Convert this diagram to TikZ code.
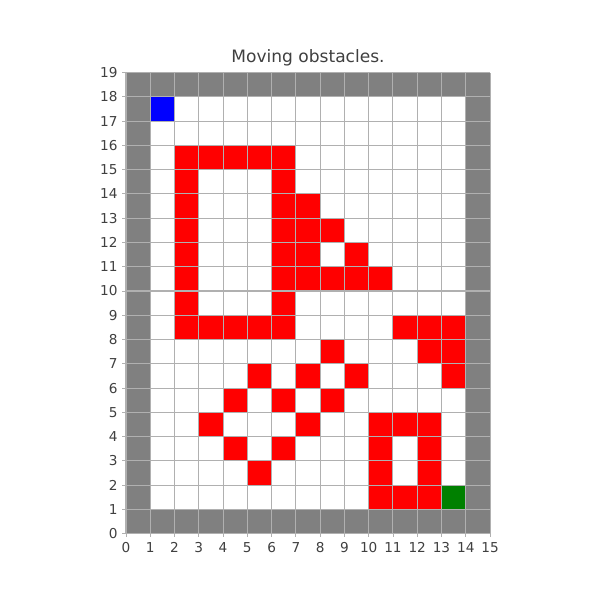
\documentclass[tikz,border=0pt]{standalone}
\usepackage{fontspec}
\setmainfont{DejaVu Sans}
\definecolor{wallgray}{HTML}{808080}
\definecolor{gridgray}{HTML}{B0B0B0}
\definecolor{obsred}{HTML}{FF0000}
\definecolor{startblue}{HTML}{0000FF}
\definecolor{goalgreen}{HTML}{008000}
\definecolor{txtgray}{HTML}{404040}
\tikzset{
  wall/.style={fill=wallgray},
  obstacle/.style={fill=obsred},
  startcell/.style={fill=startblue},
  goalcell/.style={fill=goalgreen},
  gridline/.style={draw=gridgray, line width=0.5pt},
  tickmark/.style={draw=gridgray, line width=0.4pt},
  ticklabel/.style={font=\fontsize{6.4}{7}\selectfont, text=txtgray, inner sep=0pt},
  titletext/.style={font=\fontsize{8}{9}\selectfont, text=txtgray, inner sep=0pt}
}
\begin{document}
\begin{tikzpicture}[x=0.4cm,y=0.4cm]
\useasboundingbox[fill=white] (-5.19,-2.72) rectangle (19.53,21.99);
% walls
\fill[wall] (0,0) rectangle (15,1);
\fill[wall] (0,18) rectangle (15,19);
\fill[wall] (0,0) rectangle (1,19);
\fill[wall] (14,0) rectangle (15,19);
% start and goal
\fill[startcell] (1,17) rectangle (2,18);
\fill[goalcell] (13,1) rectangle (14,2);
% obstacles
\foreach \c/\r in {2/15,3/15,4/15,5/15,6/15,
  2/14,6/14,
  2/13,6/13,7/13,
  2/12,6/12,7/12,8/12,
  2/11,6/11,7/11,9/11,
  2/10,6/10,7/10,8/10,9/10,10/10,
  2/9,6/9,
  2/8,3/8,4/8,5/8,6/8,11/8,12/8,13/8,
  8/7,12/7,13/7,
  5/6,7/6,9/6,13/6,
  4/5,6/5,8/5,
  3/4,7/4,10/4,11/4,12/4,
  4/3,6/3,10/3,12/3,
  5/2,10/2,12/2,
  10/1,11/1,12/1}
  \fill[obstacle] (\c,\r) rectangle ++(1,1);
% grid
\foreach \i in {0,...,15} \draw[gridline] (\i,0) -- (\i,19);
\foreach \j in {0,...,19} \draw[gridline] (0,\j) -- (15,\j);
% ticks
\foreach \i in {0,...,15} {
  \draw[tickmark] (\i,0) -- (\i,-0.15);
  \node[ticklabel, anchor=north] (xt\i) at (\i,-0.33) {\i};
}
\foreach \j in {0,...,19} {
  \draw[tickmark] (0,\j) -- (-0.15,\j);
  \node[ticklabel, anchor=east] (yt\j) at (-0.33,\j) {\j};
}
\node[titletext] (title) at (7.5,19.62) {Moving obstacles.};
\end{tikzpicture}
\end{document}
